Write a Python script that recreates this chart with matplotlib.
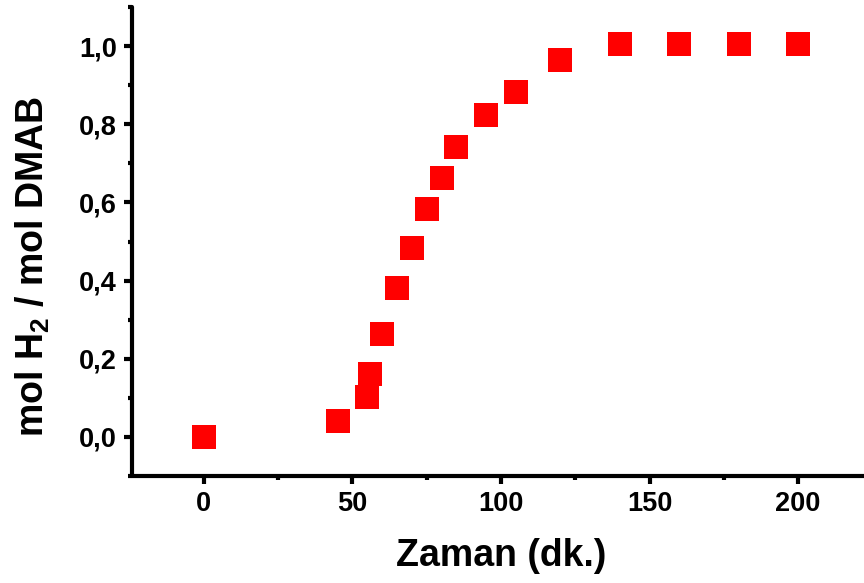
import matplotlib
matplotlib.use('Agg')
import matplotlib.pyplot as plt
from matplotlib.ticker import MultipleLocator, FuncFormatter

# veri (dakika, mol H2 / mol DMAB)
zaman = [0, 45, 55, 56, 60, 65, 70, 75, 80, 85, 95, 105, 120, 140, 160, 180, 200]
mol_oran = [0.0, 0.041, 0.102, 0.161, 0.263, 0.381, 0.483, 0.583, 0.662, 0.742,
            0.824, 0.882, 0.964, 1.005, 1.005, 1.005, 1.005]

plt.rcParams['font.family'] = ['Liberation Sans', 'DejaVu Sans']
plt.rcParams['font.weight'] = 'bold'
plt.rcParams['mathtext.fontset'] = 'custom'
plt.rcParams['mathtext.rm'] = 'Liberation Sans:bold'
plt.rcParams['mathtext.it'] = 'Liberation Sans:bold'
plt.rcParams['mathtext.bf'] = 'Liberation Sans:bold'

fig = plt.figure(figsize=(8.64, 5.83), dpi=100)
ax = fig.add_axes([0.1528, 0.1835, 0.8472, 0.8045])

ax.plot(zaman, mol_oran, 's', color='#ff0000', markersize=17.3, markeredgewidth=0,
        clip_on=False)

ax.set_xlim(-24.2, 222.2)
ax.set_ylim(-0.1, 1.1)

ax.xaxis.set_major_locator(MultipleLocator(50))
ax.xaxis.set_minor_locator(MultipleLocator(25))
ax.yaxis.set_major_locator(MultipleLocator(0.2))
ax.yaxis.set_minor_locator(MultipleLocator(0.1))
ax.yaxis.set_major_formatter(FuncFormatter(lambda v, p: f'{v:.1f}'.replace('.', ',')))

for s in ['top', 'right']:
    ax.spines[s].set_visible(False)
for s in ['left', 'bottom']:
    ax.spines[s].set_linewidth(3)
    ax.spines[s].set_capstyle('round')

ax.tick_params(which='major', direction='out', length=6, width=3, labelsize=19.5, pad=5)
ax.tick_params(which='minor', direction='out', length=3, width=3)
for lab in ax.get_xticklabels() + ax.get_yticklabels():
    lab.set_fontweight('bold')

ax.set_xlabel('Zaman (dk.)', fontsize=27, fontweight='bold')
ax.set_ylabel(r'mol H$_{\mathrm{2}}$ / mol DMAB', fontsize=27, fontweight='bold')
ax.xaxis.set_label_coords(0.504, -0.133)
ax.yaxis.set_label_coords(-0.109, 0.446)

fig.savefig('out.png', dpi=100)
